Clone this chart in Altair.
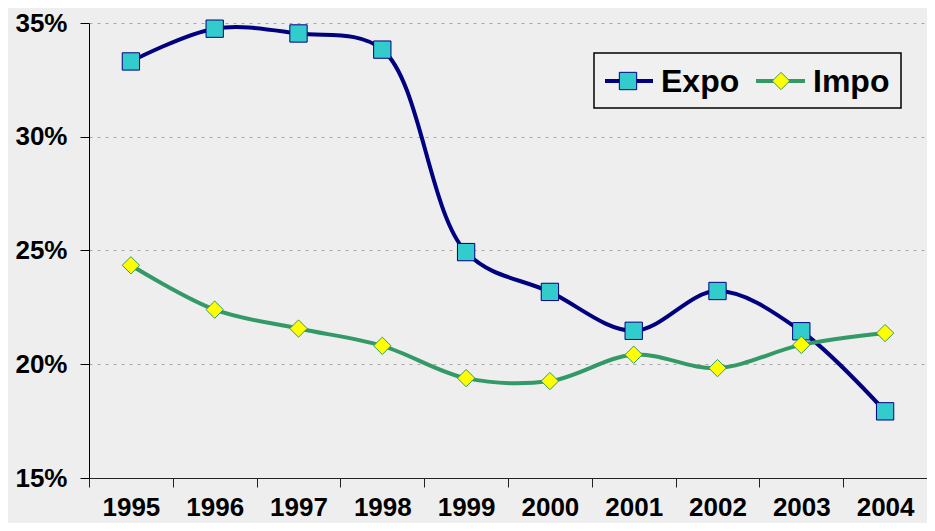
import altair as alt
import pandas as pd

years = ["1995", "1996", "1997", "1998", "1999", "2000", "2001", "2002", "2003", "2004"]
expo = [0.3331, 0.3475, 0.3454, 0.3383, 0.2493, 0.2318, 0.2147, 0.2322, 0.2145, 0.1793]
impo = [0.2435, 0.2240, 0.2157, 0.2081, 0.1939, 0.1926, 0.2042, 0.1983, 0.2085, 0.2137]
series = ["Expo", "Impo"]

rows = []
for name, vals in zip(series, [expo, impo]):
    for yr, v in zip(years, vals):
        rows.append({"year": yr, "value": v, "series": name})
df = pd.DataFrame(rows)

NAVY = "#000080"
GREEN = "#339966"
CYAN = "#33CCCC"
YELLOW = "#FFFF00"
FONT = "Liberation Sans"

x_enc = alt.X(
    "year:N",
    sort=years,
    scale=alt.Scale(type="band", paddingInner=0, paddingOuter=0),
    axis=alt.Axis(
        title=None, labelAngle=0, labelFont=FONT, labelFontSize=26, labelFontWeight="bold",
        labelColor="black", tickBand="extent", tickSize=9, tickColor="#222222",
        domainColor="#222222", labelPadding=7, grid=False,
    ),
)
y_enc = alt.Y(
    "value:Q",
    scale=alt.Scale(domain=[0.15, 0.35], zero=False, nice=False),
    axis=alt.Axis(
        title=None, format=".0%", values=[0.15, 0.20, 0.25, 0.30, 0.35],
        labelFont=FONT, labelFontSize=26, labelFontWeight="bold", labelColor="black",
        tickSize=9, tickColor="black", domainColor="black", labelPadding=13,
        grid=True, gridColor="#a8a8a8", gridDash=[3, 5], gridWidth=1,
    ),
)

base = alt.Chart(df)

lines = base.mark_line(interpolate="catmull-rom", strokeWidth=4).encode(
    x=x_enc, y=y_enc,
    color=alt.Color("series:N", scale=alt.Scale(domain=series, range=[NAVY, GREEN]), legend=None),
    detail="series:N",
)

points = base.mark_point(filled=True, size=300, strokeWidth=1, opacity=1).encode(
    x=x_enc, y=y_enc,
    shape=alt.Shape("series:N", scale=alt.Scale(domain=series, range=["square", "diamond"]), legend=None),
    fill=alt.Fill("series:N", scale=alt.Scale(domain=series, range=[CYAN, YELLOW]), legend=None),
    stroke=alt.Stroke("series:N", scale=alt.Scale(domain=series, range=[NAVY, GREEN]), legend=None),
)

# Legend (manual, Excel-style)
one = pd.DataFrame({"k": [0]})
leg = alt.Chart(one)
legend_box = leg.mark_rect(fill="#f0f0f0", stroke="black", strokeWidth=1.5).encode(
    x=alt.value(505), x2=alt.value(812), y=alt.value(30), y2=alt.value(85)
)
expo_rule = leg.mark_rule(color=NAVY, strokeWidth=4).encode(
    x=alt.value(516), x2=alt.value(564), y=alt.value(58)
)
expo_pt = leg.mark_point(shape="square", filled=True, size=300, fill=CYAN, stroke=NAVY, strokeWidth=1, opacity=1).encode(
    x=alt.value(539), y=alt.value(58)
)
expo_txt = leg.mark_text(text="Expo", align="left", baseline="middle", font=FONT, fontSize=32, fontWeight="bold", color="black").encode(
    x=alt.value(572), y=alt.value(59)
)
impo_rule = leg.mark_rule(color=GREEN, strokeWidth=4).encode(
    x=alt.value(667), x2=alt.value(716), y=alt.value(58)
)
impo_pt = leg.mark_point(shape="diamond", filled=True, size=300, fill=YELLOW, stroke=GREEN, strokeWidth=1, opacity=1).encode(
    x=alt.value(692), y=alt.value(58)
)
impo_txt = leg.mark_text(text="Impo", align="left", baseline="middle", font=FONT, fontSize=32, fontWeight="bold", color="black").encode(
    x=alt.value(724), y=alt.value(59)
)

chart = alt.layer(
    lines, points, legend_box, expo_rule, expo_pt, expo_txt, impo_rule, impo_pt, impo_txt
).properties(
    width=838, height=455,
    autosize=alt.AutoSizeParams(type="none"),
    padding={"left": 81, "top": 15, "right": 0, "bottom": 45},
    background="#eeeeee",
).configure_view(stroke=None)

chart.save("out.html", embed_options={"renderer": "svg", "actions": False})
